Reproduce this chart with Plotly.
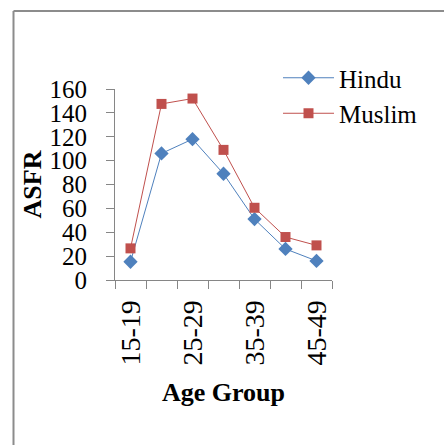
import plotly.graph_objects as go

age_groups = ["15-19", "20-24", "25-29", "30-34", "35-39", "40-44", "45-49"]
tick_text = ["15-19", "", "25-29", "", "35-39", "", "45-49"]
hindu = [15.3, 106, 118, 89, 51, 26, 16]
muslim = [26.5, 147.5, 152, 109, 60.5, 36, 29]
y_ticks = [0, 20, 40, 60, 80, 100, 120, 140, 160]

FONT = "Liberation Serif"
GRAY = "#868686"

fig = go.Figure()
fig.add_trace(go.Scatter(
    x=age_groups, y=hindu, name="Hindu", mode="lines+markers",
    line=dict(color="#4F81BD", width=1),
    marker=dict(symbol="diamond", size=11, color="#4F81BD"),
))
fig.add_trace(go.Scatter(
    x=age_groups, y=muslim, name="Muslim", mode="lines+markers",
    line=dict(color="#C0504D", width=1),
    marker=dict(symbol="square", size=10, color="#C0504D"),
))

L, R, T, B = 115, 332, 89, 280
W, H = 444, 445
pw, ph = R - L, B - T

def px(x):
    return (x - L) / pw

def py(y):
    return (B - y) / ph

fig.update_layout(
    width=W, height=H,
    margin=dict(l=L, r=W - R, t=T, b=H - B),
    paper_bgcolor="white", plot_bgcolor="white",
    font=dict(family=FONT, size=26, color="black"),
    showlegend=True,
    legend=dict(
        x=px(278), y=py(55), xanchor="left", yanchor="top",
        font=dict(size=25), itemwidth=51, tracegroupgap=0,
        bgcolor="rgba(0,0,0,0)",
    ),
    xaxis=dict(
        type="category", tickmode="array", tickvals=age_groups, ticktext=tick_text,
        tickangle=-90, tickson="boundaries", ticks="outside", ticklen=8,
        tickcolor=GRAY, showline=True, linecolor=GRAY, linewidth=1,
        showgrid=False, zeroline=False, ticklabelstandoff=8,
        tickfont=dict(size=28),
        title=dict(text="<b>Age Group</b>", font=dict(size=26), standoff=18),
        range=[-0.5, 6.5],
    ),
    yaxis=dict(
        range=[0, 160], tickvals=y_ticks, ticks="outside", ticklen=8,
        tickcolor=GRAY, showline=True, linecolor=GRAY, linewidth=1,
        showgrid=False, zeroline=False, ticklabelstandoff=14,
        tickfont=dict(size=25),
        title=dict(text="<b>ASFR</b>", font=dict(size=26), standoff=0),
    ),
    shapes=[
        dict(type="line", xref="paper", yref="paper",
             x0=px(13.5), x1=px(446), y0=py(11), y1=py(11),
             line=dict(color="#8c8c8c", width=2)),
        dict(type="line", xref="paper", yref="paper",
             x0=px(13.5), x1=px(13.5), y0=py(11), y1=py(447),
             line=dict(color="#8c8c8c", width=2)),
    ],
)

fig.write_html("out.html")
